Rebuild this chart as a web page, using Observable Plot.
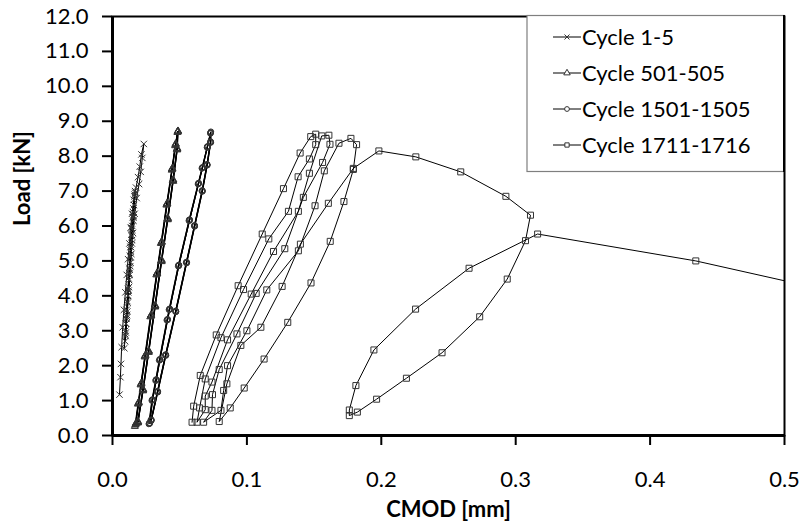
<!DOCTYPE html>
<html>
<head>
<meta charset="utf-8">
<script src="https://cdn.jsdelivr.net/npm/d3@7"></script>
<script src="https://cdn.jsdelivr.net/npm/@observablehq/plot@0.6"></script>
<style>
  html, body { margin: 0; padding: 0; background: white; }
  #chart { width: 803px; height: 524px; }
</style>
</head>
<body>
<div id="chart"></div>
<script>
// ---------------- data ----------------
const seriesNames = ["Cycle 1-5", "Cycle 501-505", "Cycle 1501-1505", "Cycle 1711-1716"];
const xTicks = [0, 0.1, 0.2, 0.3, 0.4, 0.5];
const yTicks = [0, 1, 2, 3, 4, 5, 6, 7, 8, 9, 10, 11, 12];

const cyc1_5_x = [
  0.0052,0.0059,0.0063,0.0068,0.0076,0.0085,0.0096,0.0106,0.0116,0.0126,0.0135,0.0145,0.0158,0.0175,0.0190,0.0203,0.0215,0.0233,
  0.0222,0.0210,0.0198,0.0180,0.0165,0.0152,0.0140,0.0128,0.0118,0.0106,0.0095,0.0088,
  0.0095,0.0105,0.0115,0.0125,0.0134,0.0143,0.0152,0.0163,
  0.0155,0.0145,0.0135,0.0124,0.0113,0.0102,0.0094,
  0.0100,0.0110,0.0120,0.0130,0.0140,0.0150,0.0165,
  0.0156,0.0144,0.0132,0.0120,0.0108,0.0097,
  0.0103,0.0114,0.0124,0.0134,0.0144,0.0156,0.0168,
  0.0158,0.0146,0.0134,0.0122,0.0110,0.0099,
  0.0106,0.0117,0.0127,0.0137,0.0147,0.0160,0.0170
];
const cyc1_5_y = [
  1.17,1.67,2.05,2.53,3.10,3.60,4.10,4.60,5.05,5.50,5.95,6.35,6.75,7.10,7.40,7.70,8.05,8.35,
  7.95,7.55,7.20,6.80,6.35,5.80,5.20,4.60,4.00,3.40,2.90,2.50,
  3.00,3.60,4.20,4.80,5.40,5.95,6.40,6.85,
  6.30,5.70,5.10,4.45,3.80,3.20,2.70,
  3.20,3.85,4.50,5.15,5.75,6.25,6.90,
  6.15,5.50,4.85,4.15,3.45,2.85,
  3.35,4.00,4.65,5.30,5.90,6.50,7.00,
  6.25,5.60,4.95,4.25,3.55,2.95,
  3.45,4.10,4.75,5.40,6.00,6.60,6.95
];

const cyc501_x = [
  0.0166,0.0189,0.0209,0.0239,0.0281,0.0326,0.0360,0.0401,0.0440,0.0466,0.0483,
  0.0478,0.0448,0.0408,0.0362,0.0314,0.0266,0.0224,0.0186,
  0.0170,0.0192,0.0212,0.0242,0.0285,0.0329,0.0363,0.0404,0.0443,0.0468,0.0485,
  0.0480,0.0450,0.0410,0.0364,0.0316,0.0268,0.0226,0.0188,
  0.0172,0.0194,0.0214,0.0244,0.0287,0.0331,0.0365,0.0406,0.0444,0.0469,0.0486,
  0.0481,0.0451,0.0411,0.0365,0.0317,0.0269,0.0227,0.0189,
  0.0173,0.0195,0.0215,0.0245,0.0288,0.0332,0.0366,0.0407,0.0445,0.0470,0.0487,
  0.0482,0.0452,0.0412,0.0366,0.0318,0.0270,0.0228,0.0190,
  0.0174,0.0196,0.0216,0.0246,0.0289,0.0333,0.0367,0.0408,0.0446,0.0471,0.0488,
  0.0483,0.0453,0.0413,0.0367,0.0319,0.0271,0.0229,0.0191
];
const cyc501_y = [
  0.26,0.90,1.45,2.25,3.40,4.60,5.50,6.60,7.60,8.30,8.68,
  8.20,7.30,6.20,5.00,3.70,2.40,1.30,0.40,
  0.30,0.92,1.47,2.27,3.42,4.62,5.52,6.62,7.62,8.32,8.70,
  8.22,7.32,6.22,5.02,3.72,2.42,1.32,0.38,
  0.32,0.95,1.50,2.30,3.45,4.65,5.55,6.65,7.65,8.35,8.72,
  8.20,7.30,6.20,5.00,3.70,2.40,1.30,0.36,
  0.33,0.93,1.48,2.28,3.43,4.63,5.53,6.63,7.63,8.33,8.70,
  8.18,7.28,6.18,4.98,3.68,2.38,1.28,0.37,
  0.35,0.95,1.50,2.30,3.45,4.65,5.55,6.65,7.65,8.35,8.72,
  8.22,7.32,6.22,5.02,3.72,2.42,1.32,0.40
];

const cyc1501_x = [
  0.0270,0.0292,0.0320,0.0347,0.0404,0.0420,0.0488,0.0568,0.0636,0.0665,0.0703,0.0728,
  0.0728,0.0702,0.0665,0.0608,0.0548,0.0468,0.0393,0.0333,0.0285,
  0.0273,0.0295,0.0323,0.0350,0.0407,0.0423,0.0491,0.0571,0.0638,0.0667,0.0705,0.0729,
  0.0729,0.0703,0.0667,0.0610,0.0550,0.0470,0.0395,0.0335,0.0287,
  0.0275,0.0297,0.0325,0.0352,0.0409,0.0425,0.0493,0.0573,0.0640,0.0669,0.0706,0.0730,
  0.0730,0.0704,0.0668,0.0611,0.0551,0.0471,0.0396,0.0336,0.0288,
  0.0276,0.0298,0.0326,0.0353,0.0410,0.0426,0.0494,0.0574,0.0641,0.0670,0.0707,0.0731,
  0.0731,0.0705,0.0669,0.0612,0.0552,0.0472,0.0397,0.0337,0.0289,
  0.0277,0.0299,0.0327,0.0354,0.0411,0.0427,0.0495,0.0575,0.0642,0.0671,0.0708,0.0732,
  0.0732,0.0706,0.0670,0.0613,0.0553,0.0473,0.0398,0.0338,0.0290
];
const cyc1501_y = [
  0.33,1.00,1.57,2.15,3.30,3.60,4.85,6.15,7.20,7.65,8.25,8.65,
  8.40,7.75,7.00,6.00,4.95,3.55,2.30,1.25,0.45,
  0.35,1.02,1.60,2.18,3.32,3.62,4.88,6.18,7.22,7.67,8.27,8.67,
  8.42,7.77,7.02,6.02,4.97,3.57,2.32,1.27,0.42,
  0.36,1.03,1.58,2.16,3.31,3.61,4.86,6.16,7.21,7.66,8.26,8.66,
  8.41,7.76,7.01,6.01,4.96,3.56,2.31,1.26,0.44,
  0.34,1.01,1.59,2.17,3.33,3.63,4.87,6.17,7.23,7.68,8.28,8.68,
  8.39,7.74,6.99,5.99,4.94,3.54,2.29,1.24,0.43,
  0.35,1.02,1.60,2.18,3.32,3.62,4.88,6.18,7.22,7.67,8.27,8.70,
  8.40,7.75,7.00,6.00,4.95,3.55,2.30,1.25,0.45
];

const cyc1711_x = [
  0.0592,0.0604,0.0653,0.0772,0.0935,0.1114,0.1272,0.1396,0.1475,0.1512,
  0.1512,0.1465,0.1381,0.1309,0.1163,0.0975,0.0807,0.0690,0.0648,0.0629,
  0.0690,0.0690,0.0740,0.0856,0.1032,0.1198,0.1383,0.1465,0.1557,0.1610,
  0.1618,0.1563,0.1420,0.1282,0.1069,0.0926,0.0794,0.0744,0.0740,0.0678,
  0.0807,0.0827,0.0856,0.1000,0.1148,0.1383,0.1507,0.1576,0.1685,0.1774,0.1816,
  0.1792,0.1722,0.1620,0.1477,0.1304,0.1128,0.0980,0.0876,0.0794,
  0.0851,0.0955,0.1104,0.1262,0.1398,0.1606,0.1792,
  0.1982,0.2257,0.2591,0.2927,0.3110,0.3073,0.2937,0.2732,0.2452,0.2187,0.1965,0.1822,0.1762,
  0.1762,0.1811,0.1945,0.2255,0.2653,0.3163,0.4340,0.5500
];
const cyc1711_y = [
  0.38,0.84,1.72,2.88,4.29,5.77,7.07,8.09,8.56,8.63,
  8.33,7.92,7.41,6.42,5.63,4.18,2.80,1.62,0.79,0.38,
  0.74,1.13,1.53,2.74,4.05,5.27,6.42,7.51,8.58,8.60,
  8.34,7.82,6.82,5.35,4.07,2.91,1.89,1.17,0.72,0.38,
  0.72,1.29,2.00,3.00,4.17,5.29,6.58,7.58,8.37,8.51,8.33,
  7.62,6.70,5.56,4.37,3.24,2.19,1.36,0.79,0.40,
  1.48,2.58,3.10,4.27,5.48,6.65,7.65,
  8.15,7.98,7.55,6.85,6.31,5.58,4.48,3.40,2.37,1.64,1.04,0.67,0.57,
  0.73,1.43,2.45,3.62,4.79,5.77,5.00,4.00
];

// ---------------- build table ----------------
const seriesX = [cyc1_5_x, cyc501_x, cyc1501_x, cyc1711_x];
const seriesY = [cyc1_5_y, cyc501_y, cyc1501_y, cyc1711_y];
const symbols = ["times", "triangle", "circle", "square"];
const sizes = [3, 2.6, 2.8, 3.4];

const data = seriesNames.flatMap((name, k) =>
  seriesX[k].map((x, i) => ({x, y: seriesY[k][i], s: name}))
);

const FONT = "Lato, 'Open Sans', sans-serif";

const chart = Plot.plot({
  width: 803,
  height: 524,
  marginLeft: 112,
  marginRight: 19,
  marginTop: 16,
  marginBottom: 89,
  style: {fontFamily: FONT, fontSize: "22px", background: "white", color: "black"},
  x: {domain: [0, 0.5]},
  y: {domain: [0, 12]},
  marks: [
    Plot.line(data, {x: "x", y: "y", z: "s", stroke: "black", strokeWidth: 1, clip: true}),
    ...seriesNames.map((name, k) =>
      Plot.dot(data.filter(d => d.s === name && d.x <= 0.5), {
        x: "x", y: "y", symbol: symbols[k], r: sizes[k],
        stroke: "#333", strokeWidth: 1, fill: "none"
      })
    ),
    Plot.frame({stroke: "black", strokeWidth: 2}),
    Plot.ruleX([0], {stroke: "black", strokeWidth: 3}),
    Plot.ruleY([0], {stroke: "black", strokeWidth: 3}),
    Plot.axisX({ticks: xTicks, tickFormat: d => d.toFixed(1), tickSize: 10, tickPadding: 26,
      strokeWidth: 2, label: null, fontSize: 22}),
    Plot.axisY({ticks: yTicks, tickFormat: d => d.toFixed(1), tickSize: 10, tickPadding: 14,
      strokeWidth: 2, label: null, fontSize: 22}),
    Plot.text(["CMOD [mm]"], {text: d => d, frameAnchor: "bottom", dy: 81,
      fontWeight: "bold", fontSize: 22}),
    Plot.text(["Load [kN]"], {text: d => d, frameAnchor: "left", dx: -90, rotate: -90,
      fontWeight: "bold", fontSize: 22})
  ]
});

// ---------------- legend ----------------
const svg = d3.select(chart);
const lg = svg.append("g").attr("font-family", FONT).attr("font-size", 22).attr("text-anchor", "start");
lg.append("rect").attr("x", 527).attr("y", 15.5).attr("width", 257).attr("height", 156)
  .attr("fill", "white").attr("stroke", "#7f7f7f").attr("stroke-width", 1.2);
const legendY = [37, 73, 109, 145];
seriesNames.forEach((name, k) => {
  const y = legendY[k];
  lg.append("line").attr("x1", 553).attr("x2", 581).attr("y1", y).attr("y2", y)
    .attr("stroke", "black").attr("stroke-width", 1);
  const sym = {times: d3.symbolTimes, triangle: d3.symbolTriangle, circle: d3.symbolCircle, square: d3.symbolSquare}[symbols[k]];
  lg.append("path").attr("d", d3.symbol(sym, Math.PI * 2.4 * 2.4)())
    .attr("transform", `translate(567,${y})`)
    .attr("fill", "white").attr("stroke", "#333").attr("stroke-width", 1);
  lg.append("text").attr("x", 582).attr("y", y).attr("dy", "0.35em").attr("text-anchor", "start").text(name);
});
svg.append("line").attr("x1", 784).attr("x2", 784).attr("y1", 15).attr("y2", 172)
  .attr("stroke", "black").attr("stroke-width", 2);

document.getElementById("chart").appendChild(chart);
</script>
</body>
</html>
